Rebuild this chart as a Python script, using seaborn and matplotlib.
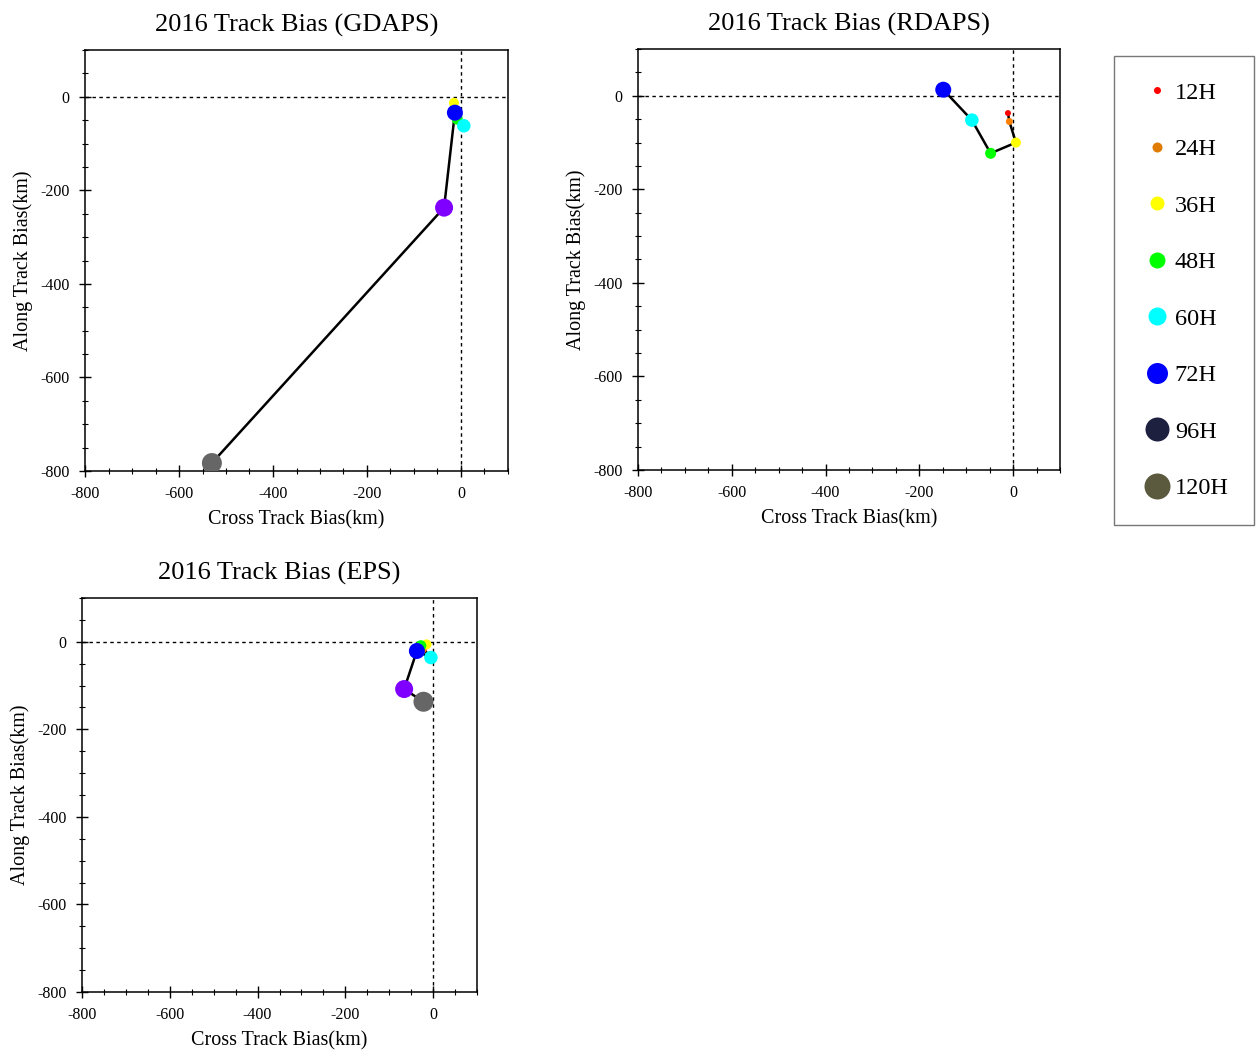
import numpy as np
import pandas as pd
import matplotlib
matplotlib.use("Agg")
import matplotlib.pyplot as plt
import seaborn as sns
from matplotlib.lines import Line2D
from matplotlib.ticker import MultipleLocator

# forecast lead times
leads = ["12H", "24H", "36H", "48H", "60H", "72H", "96H", "120H"]

# cross / along track bias (km)
gdaps_cross = [-14, -14, -15, -8, 6, -13, -36, -530]
gdaps_along = [-22, -27, -13, -48, -62, -34, -237, -783]

rdaps_cross = [-11, -8, 6, -48, -88, -149]
rdaps_along = [-37, -55, -100, -123, -52, 13]

eps_cross = [-18, -22, -15, -28, -5, -37, -66, -22]
eps_along = [-5, -17, -6, -9, -36, -21, -108, -137]

# marker colours in the panels and in the legend
plot_colors = ["#ff0000", "#ff8000", "#ffff00", "#00ff00", "#00ffff", "#0000ff", "#7f00ff", "#666666"]
legend_colors = ["#ff0000", "#e07b00", "#ffff00", "#00ff00", "#00ffff", "#0000ff", "#1e2040", "#5b5a3e"]
plot_diam = [6, 7, 10, 11, 13.5, 16, 18, 20]      # px
legend_diam = [7, 10, 14, 16, 18, 21, 24, 26]     # px

sns.set_style("white")
plt.rcParams["font.family"] = ["Liberation Serif", "DejaVu Serif"]
plt.rcParams["axes.unicode_minus"] = False
plt.rcParams["text.color"] = "black"
plt.rcParams["axes.labelcolor"] = "black"

fig = plt.figure(figsize=(12.6, 10.51), dpi=100)
W, H = 1260, 1051


def panel(rect, cross, along, title):
    l, t, r, b = rect
    ax = fig.add_axes([l / W, 1 - b / H, (r - l) / W, (b - t) / H])
    n = len(cross)
    df = pd.DataFrame({"cross": cross, "along": along, "lead": leads[:n]})
    ax.axhline(0, color="black", lw=1, ls=(0, (2.5, 2.5)), zorder=1)
    ax.axvline(0, color="black", lw=1, ls=(0, (2.5, 2.5)), zorder=1)
    sns.lineplot(data=df, x="cross", y="along", sort=False, estimator=None,
                 color="black", lw=1.8, ax=ax, zorder=2)
    sns.scatterplot(data=df, x="cross", y="along", hue="lead", size="lead",
                    palette=dict(zip(leads, plot_colors)),
                    sizes={k: (d * 0.72) ** 2 for k, d in zip(leads, plot_diam)},
                    linewidth=0, alpha=1, legend=False, ax=ax, zorder=3)
    ax.set_xlim(-800, 100)
    ax.set_ylim(-800, 100)
    ax.xaxis.set_major_locator(MultipleLocator(200))
    ax.yaxis.set_major_locator(MultipleLocator(200))
    ax.xaxis.set_minor_locator(MultipleLocator(50))
    ax.yaxis.set_minor_locator(MultipleLocator(50))
    ax.tick_params(which="both", direction="inout", bottom=True, left=True,
                   top=False, right=False, labelsize=11.5, colors="black")
    ax.tick_params(which="major", length=8, width=1, pad=7)
    ax.tick_params(which="minor", length=5, width=0.8)
    for s in ax.spines.values():
        s.set_color("black")
        s.set_linewidth(1.1)
    ax.set_xlabel("Cross Track Bias(km)", fontsize=14.5, labelpad=6)
    ax.set_ylabel("Along Track Bias(km)", fontsize=14.5, labelpad=5)
    ax.set_title(title, fontsize=19, pad=13)
    return ax


panel((85, 50, 508, 471), gdaps_cross, gdaps_along, "2016 Track Bias (GDAPS)")
panel((638, 49, 1060, 470), rdaps_cross, rdaps_along, "2016 Track Bias (RDAPS)")
panel((82, 598, 477, 992), eps_cross, eps_along, "2016 Track Bias (EPS)")

handles = [Line2D([], [], ls="none", marker="o", color=c, markeredgewidth=0,
                  markersize=d * 0.72) for c, d in zip(legend_colors, legend_diam)]
leg = fig.legend(handles, leads, loc="upper left",
                 bbox_to_anchor=(1114 / W, 1 - 56 / H), frameon=True,
                 fontsize=17.5, labelspacing=1.42, handletextpad=0.0,
                 handlelength=1.45, borderpad=1.05, borderaxespad=0,
                 fancybox=False)
leg.get_frame().set_edgecolor("#555555")
leg.get_frame().set_linewidth(1)

fig.savefig("out.png", dpi=100)
